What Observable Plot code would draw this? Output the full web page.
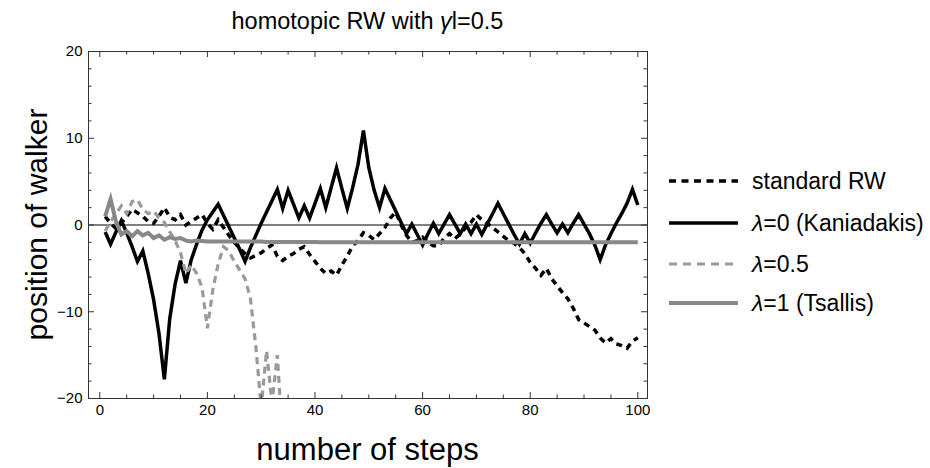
<!DOCTYPE html>
<html><head><meta charset="utf-8">
<script src="https://cdn.jsdelivr.net/npm/d3@7"></script>
<script src="https://cdn.jsdelivr.net/npm/@observablehq/plot@0.6"></script>
<style>body{margin:0;background:#fff;} svg{display:block;}</style>
</head><body><div id="chart"></div>
<script>
const titleText = ["homotopic RW with ", "γ", "l=0.5"];
const xLabel = "number of steps";
const yLabel = "position of walker";
const steps = d3.range(1, 101);
const standardRW = [1.0, 0.2, -0.4, 0.2, 1.0, 1.8, 1.4, 1.0, 0.4, 0.2,
  1.0, 2.0, 0.9, 0.6, 1.2, 0.0, 0.4, 0.8, 1.2, 0.2,
  -0.5, 0.6, -0.3, -1.2, -2.0, -2.7, -3.3, -3.8, -3.5, -3.2,
  -2.7, -2.3, -3.6, -4.1, -3.6, -3.3, -2.8, -2.5, -3.4, -4.2,
  -5.0, -5.6, -5.3, -5.8, -4.6, -3.6, -2.4, -1.8, -0.9, -1.2,
  -1.7, -1.0, -0.3, 0.8, 1.5, 0.0, -1.2, -2.0, -1.8, -1.4,
  -2.0, -2.4, -2.4, -1.5, -1.0, -1.6, -1.0, -0.3, 0.3, 1.2,
  0.6, 0.2, -0.3, -0.8, -1.3, -1.8, -2.1, -2.6, -3.3, -4.3,
  -5.0, -5.8, -5.0, -6.2, -7.0, -7.8, -8.5, -9.6, -10.9, -11.3,
  -11.7, -12.1, -13.0, -13.6, -13.1, -13.7, -13.9, -14.2, -13.4, -13.0];
const kaniadakis = [-0.8, -2.2, -0.8, 0.5, -0.9, -2.5, -4.2, -3.0, -5.6, -8.6,
  -12.5, -17.8, -10.8, -6.8, -4.1, -6.7, -4.0, -2.2, -0.6, 0.6,
  1.5, 2.4, 1.1, -0.2, -1.5, -2.8, -4.2, -2.6, -1.2, 0.2,
  1.5, 2.8, 4.1, 1.9, 4.0, 2.4, 0.8, 2.2, 0.8, 2.5,
  4.2, 2.0, 4.3, 6.6, 4.2, 1.9, 4.3, 7.0, 10.9, 6.6,
  4.0, 2.0, 4.2, 2.9, 1.6, 0.3, -1.0, 0.1, -1.1, -2.3,
  -1.0, 0.2, -1.0, 0.1, 1.2, 0.1, -1.0, 0.1, -1.0, 0.1,
  -1.1, 0.1, 1.3, 2.5, 1.3, 0.1, -1.1, -2.2, -1.0, -2.1,
  -0.9, 0.2, 1.2, 0.1, -0.9, 0.1, -0.9, 0.2, 1.2, 0.1,
  -1.0, -2.3, -4.0, -2.3, -1.0, 0.2, 1.3, 2.5, 4.1, 2.3];
const lambdaHalf = [-0.7, 0.4, 1.3, 2.2, 1.3, 2.7, 2.9, 1.8, 1.3, 1.6,
  0.8, 0.3, -0.8, -1.8, -3.2, -5.6, -4.6, -5.6, -7.2, -11.9,
  -7.5, -4.5, -2.5, -3.0, -4.2, -5.2, -6.2, -8.5, -14.0, -21.0,
  -14.5, -20.5, -15.0, -25.0];
const tsallis = [1.0, 3.0, 0.4, -1.1, -0.7, -1.3, -0.7, -1.2, -0.9, -1.5,
  -1.2, -1.7, -1.4, -1.6, -1.5, -1.8, -1.9, -1.8, -1.85, -1.9,
  -1.9, -1.9, -1.9, -1.9, -1.9, -1.9, -1.9, -1.9, -1.9, -1.9,
  -1.95, -1.95, -1.95, -1.95, -1.95, -1.95, -1.95, -1.95, -1.95, -1.95,
  -2.0, -2.0, -2.0, -2.0, -2.0, -2.0, -2.0, -2.0, -2.0, -2.0,
  -2.0, -2.0, -2.0, -2.0, -2.0, -2.0, -2.0, -2.0, -2.0, -2.0,
  -2.0, -2.0, -2.0, -2.0, -2.0, -2.0, -2.0, -2.0, -2.0, -2.0,
  -2.0, -2.0, -2.0, -2.0, -2.0, -2.0, -2.0, -2.0, -2.0, -2.0,
  -2.0, -2.0, -2.0, -2.0, -2.0, -2.0, -2.0, -2.0, -2.0, -2.0,
  -2.0, -2.0, -2.0, -2.0, -2.0, -2.0, -2.0, -2.0, -2.0, -2.0];
const seriesNames = ["standard RW", "λ=0 (Kaniadakis)", "λ=0.5", "λ=1 (Tsallis)"];
const xMajor = [0, 20, 40, 60, 80, 100];
const xMinor = [5, 10, 15, 25, 30, 35, 45, 50, 55, 65, 70, 75, 85, 90, 95];
const yMajor = [-20, -10, 0, 10, 20];
const yMinor = [-18, -16, -14, -12, -8, -6, -4, -2, 2, 4, 6, 8, 12, 14, 16, 18];

const W = 930, H = 468, mL = 88, mR = 283, mT = 51, mB = 70;
const FW = W - mL - mR, FH = H - mT - mB;
const FONT = "'Liberation Sans', Arial, sans-serif";

const toRows = arr => arr.map((v, i) => ({step: steps[i], value: v}));
const styles = [
  {stroke: "black", strokeWidth: 3.5, dash: "6,5"},
  {stroke: "black", strokeWidth: 3.5, dash: null},
  {stroke: "#9a9a9a", strokeWidth: 3.2, dash: "7,5"},
  {stroke: "#888888", strokeWidth: 4, dash: null}
];
const allSeries = [standardRW, kaniadakis, lambdaHalf, tsallis];
const fmt = d => d < 0 ? "\u2212" + Math.abs(d) : String(d);

const plot = Plot.plot({
  width: W, height: H,
  marginLeft: mL, marginRight: mR, marginTop: mT, marginBottom: mB,
  x: {domain: [-2.1, 101.8]},
  y: {domain: [-20, 20]},
  style: {fontFamily: FONT, background: "white", color: "black"},
  marks: [
    Plot.ruleY([0], {stroke: "black", strokeWidth: 1}),
    ...allSeries.map((arr, k) => Plot.line(toRows(arr), {
      x: "step", y: "value", stroke: styles[k].stroke, strokeWidth: styles[k].strokeWidth,
      strokeDasharray: styles[k].dash, strokeLinejoin: "miter", strokeMiterlimit: 4,
      strokeLinecap: "butt", clip: true, curve: "linear"
    })),
    Plot.frame({stroke: "#333", strokeWidth: 1}),
    Plot.ruleX(xMajor, {x: d => d, insetTop: FH - 6, stroke: "#333"}),
    Plot.ruleX(xMinor, {x: d => d, insetTop: FH - 3.5, stroke: "#333"}),
    Plot.ruleX(xMajor, {x: d => d, insetBottom: FH - 6, stroke: "#333"}),
    Plot.ruleX(xMinor, {x: d => d, insetBottom: FH - 3.5, stroke: "#333"}),
    Plot.ruleY(yMajor, {y: d => d, insetRight: FW - 6, stroke: "#333"}),
    Plot.ruleY(yMinor, {y: d => d, insetRight: FW - 3.5, stroke: "#333"}),
    Plot.ruleY(yMajor, {y: d => d, insetLeft: FW - 6, stroke: "#333"}),
    Plot.ruleY(yMinor, {y: d => d, insetLeft: FW - 3.5, stroke: "#333"}),
    Plot.axisX(xMajor, {tickSize: 0, tickPadding: 6, fontSize: 15, label: null, tickFormat: fmt}),
    Plot.axisY(yMajor, {tickSize: 0, tickPadding: 6, fontSize: 15, label: null, tickFormat: fmt})
  ]
});
document.getElementById("chart").appendChild(plot);

const svg = d3.select(plot);
const t = svg.append("text").attr("x", mL + FW / 2).attr("y", 29)
  .attr("text-anchor", "middle").attr("font-size", 23.5).attr("font-family", FONT).attr("fill", "black");
titleText.forEach((s, i) => t.append("tspan").text(s).attr("font-style", i === 1 ? "italic" : null));

svg.append("text").attr("x", mL + FW / 2).attr("y", 460)
  .attr("text-anchor", "middle").attr("font-size", 31).attr("font-family", FONT).attr("fill", "black")
  .text(xLabel);
svg.append("text").attr("transform", `translate(47,${mT + FH / 2}) rotate(-90)`)
  .attr("text-anchor", "middle").attr("font-size", 30).attr("font-family", FONT).attr("fill", "black")
  .text(yLabel);

const legendY = [181, 223, 264, 303];
const lg = svg.append("g").attr("font-family", FONT).attr("font-size", 23).attr("text-anchor", "start");
seriesNames.forEach((name, k) => {
  lg.append("line").attr("x1", 669).attr("x2", 738).attr("y1", legendY[k]).attr("y2", legendY[k])
    .attr("stroke", styles[k].stroke).attr("stroke-width", styles[k].strokeWidth)
    .attr("stroke-dasharray", styles[k].dash ? (k === 0 ? "7,5.5" : "8,6") : null);
  const tx = lg.append("text").attr("x", 752).attr("y", legendY[k]).attr("dy", "0.35em")
    .attr("text-anchor", "start").attr("fill", "black");
  if (name.startsWith("λ")) {
    tx.append("tspan").text("λ").attr("font-style", "italic");
    tx.append("tspan").text(name.slice(1));
  } else tx.text(name);
});
</script></body></html>
